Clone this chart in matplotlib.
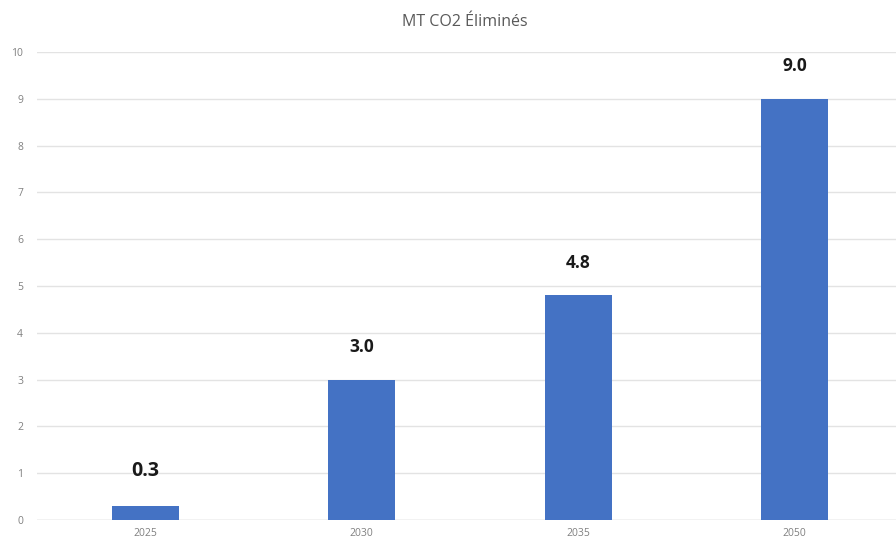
import numpy as np
import matplotlib.pyplot as plt

# Tonnes of CO2 removed (millions) per target year
years = ['2025', '2030', '2035', '2050']
removed = [0.3, 3.0, 4.8, 9.0]
value_labels = ['0.3', '3.0', '4.8', '9.0']

plt.rcParams['font.family'] = ['Open Sans', 'DejaVu Sans']

fig = plt.figure(figsize=(8.96, 5.46), dpi=100)
ax = fig.add_axes([37 / 896, 1 - 520 / 546, 1 - 37 / 896, (520 - 52) / 546])

x = np.arange(len(years))
bars = ax.bar(x, removed, width=0.31, color='#4472C4', zorder=3)

# value labels above each bar (first one is drawn a bit larger)
for i, (b, lab) in enumerate(zip(bars, value_labels)):
    size = 14 if i == 0 else 12.5
    dy = 18 if i == 0 else 17
    ax.annotate(lab, (b.get_x() + b.get_width() / 2, b.get_height()),
                xytext=(0, dy), textcoords='offset points',
                ha='center', va='bottom', fontsize=size, fontweight='bold',
                color='#1a1a1a')

ax.set_xlim(-0.5, 3.468)
ax.set_ylim(0, 10)
ax.set_yticks(range(0, 11))
ax.set_xticks(x)
ax.set_xticklabels(years)
ax.tick_params(axis='both', length=0, labelsize=7.5, colors='#808080')
ax.tick_params(axis='y', pad=10)
ax.tick_params(axis='x', pad=6)

ax.grid(axis='y', color='#e3e3e3', linewidth=1, zorder=0)
ax.axhline(0, color='#d6d6d6', linewidth=1, zorder=1)
for s in ax.spines.values():
    s.set_visible(False)

fig.text(465 / 896, 1 - 22 / 546, 'MT CO2 Éliminés', ha='center', va='center',
         fontsize=11.5, color='#595959')

fig.savefig('out.png', dpi=100)
